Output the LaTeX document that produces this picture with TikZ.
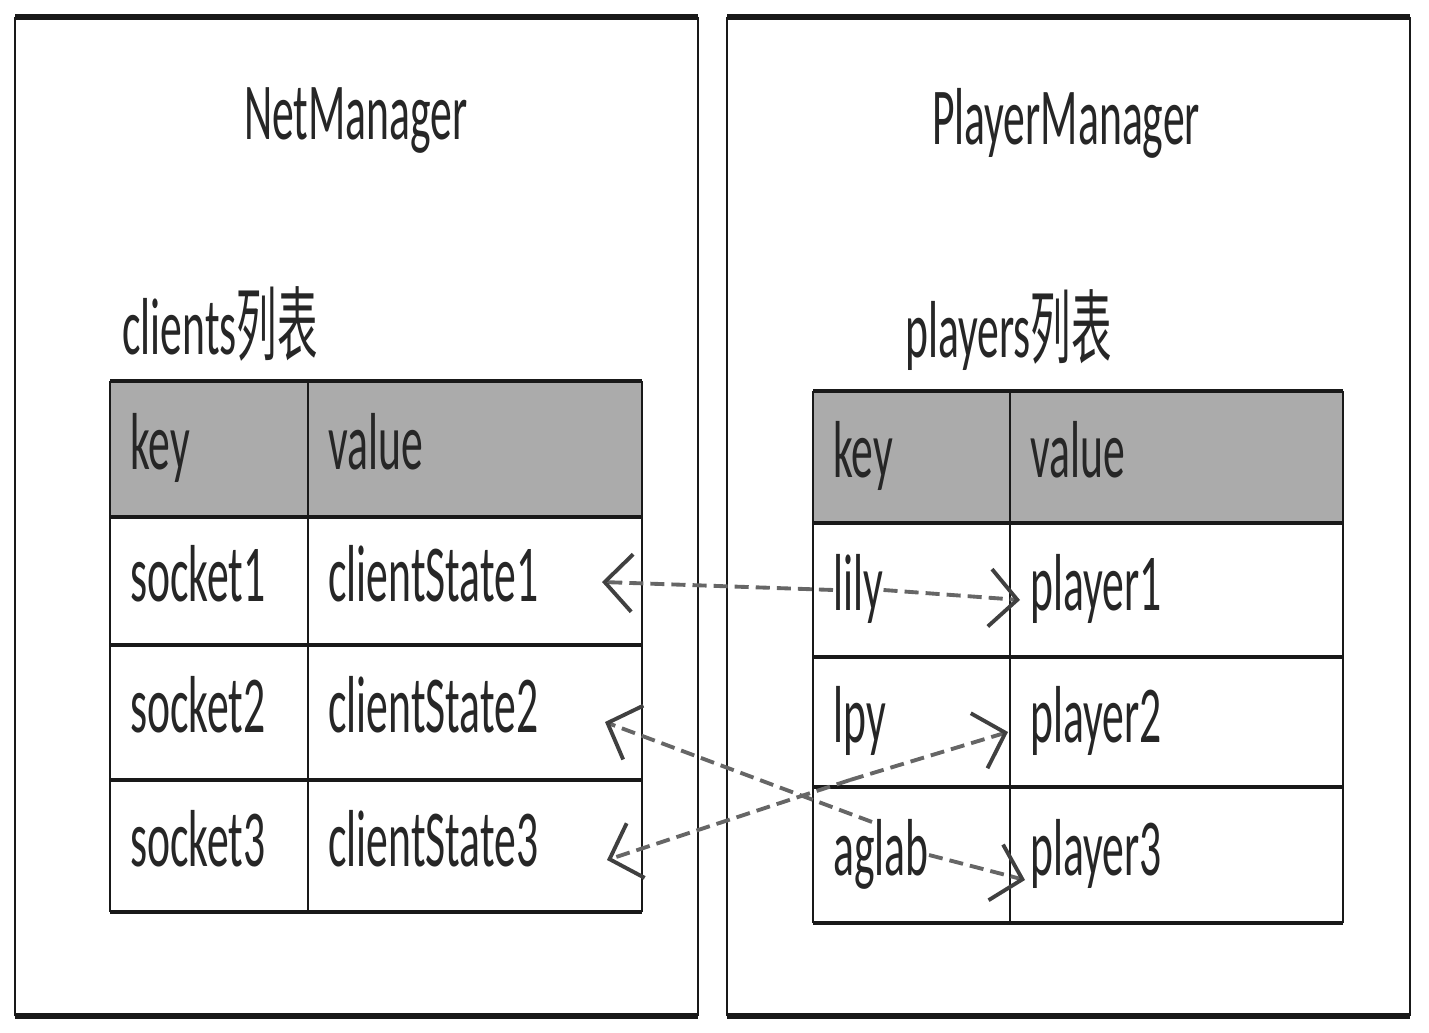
\documentclass[tikz,border=0pt]{standalone}
\usepackage{fontspec}
\setmainfont{Carlito}[FakeStretch=0.54]
\newfontfamily\cjk{Noto Sans CJK SC}[FakeStretch=0.5]
\usetikzlibrary{arrows.meta}

\tikzset{
  frame/.style={draw=black!90, line width=1.1pt},
  edge/.style={draw=black!90, line width=3pt},
  hline/.style={draw=black!90, line width=2.8pt},
  vline/.style={draw=black!90, line width=1.3pt},
  hdr/.style={fill=black!33},
  txt/.style={anchor=west, inner sep=0pt, text=black!85,
    font=\fontsize{46}{50}\selectfont, text height=34pt, text depth=11pt},
  link/.style={draw=black!60, line width=2.2pt, dash pattern=on 8pt off 4pt,
    -{Straight Barb[length=0.55cm,width=1.15cm,black!75]}},
}

\begin{document}
\begin{tikzpicture}
  \useasboundingbox (0,0) rectangle (28.58,20.64);
  % Outer frames
  \draw[frame] (0.3,0.32) -- (0.3,20.3) (13.96,0.32) -- (13.96,20.3);
  \draw[edge] (0.3,20.3) -- (13.96,20.3) (0.3,0.32) -- (13.96,0.32);
  \draw[frame] (14.54,0.32) -- (14.54,20.3) (28.2,0.32) -- (28.2,20.3);
  \draw[edge] (14.54,20.3) -- (28.2,20.3) (14.54,0.32) -- (28.2,0.32);
  % Titles
  \node[txt, anchor=center] (net) at (7.12,18.25) {NetManager};
  \node[txt, anchor=center] (player) at (21.32,18.15) {PlayerManager};
  \node[txt] (clients) at (2.44,13.95) {clients{\cjk 列表}};
  \node[txt] (players) at (18.1,13.9) {players{\cjk 列表}};
  % clients table
  \fill[hdr] (2.2,10.3) rectangle (12.84,13.02);
  \foreach \y in {2.4,5.04,7.74,10.3,13.02}
    \draw[hline] (2.2,\y) -- (12.84,\y);
  \foreach \x in {2.2,6.16,12.84}
    \draw[vline] (\x,2.4) -- (\x,13.02);
  \node[txt] (lkey) at (2.6,11.66) {key};
  \node[txt] (lval) at (6.56,11.66) {value};
  \node[txt] (s1) at (2.6,9.02) {socket1};
  \node[txt] (cs1) at (6.56,9.02) {clientState1};
  \node[txt] (s2) at (2.6,6.4) {socket2};
  \node[txt] (cs2) at (6.56,6.4) {clientState2};
  \node[txt] (s3) at (2.6,3.72) {socket3};
  \node[txt] (cs3) at (6.56,3.72) {clientState3};
  % players table
  \fill[hdr] (16.26,10.18) rectangle (26.86,12.82);
  \foreach \y in {2.18,4.9,7.5,10.18,12.82}
    \draw[hline] (16.26,\y) -- (26.86,\y);
  \foreach \x in {16.26,20.2,26.86}
    \draw[vline] (\x,2.18) -- (\x,12.82);
  \node[txt] (rkey) at (16.66,11.5) {key};
  \node[txt] (rval) at (20.6,11.5) {value};
  \node[txt] (lily) at (16.66,8.84) {lily};
  \node[txt] (p1) at (20.6,8.84) {player1};
  \node[txt] (lpy) at (16.66,6.2) {lpy};
  \node[txt] (p2) at (20.6,6.2) {player2};
  \node[txt] (aglab) at (16.66,3.54) {aglab};
  \node[txt] (p3) at (20.6,3.54) {player3};
  % Arrow ends
  \coordinate (cs1tip) at (12.04,9.0);
  \coordinate (cs2tip) at (12.1,6.2);
  \coordinate (cs3tip) at (12.14,3.44);
  \coordinate (p1tip) at (20.4,8.64);
  \coordinate (p2tip) at (20.16,6.0);
  \coordinate (p3tip) at (20.5,3.04);
  \coordinate (lpyo) at (17.0,5.04);
  \coordinate (aglabo) at (17.44,4.2);
  % Links
  \draw[link] (lily.west) -- (cs1tip);
  \draw[link] (lily.east) -- (p1tip);
  \draw[link] (lpyo) -- (cs3tip);
  \draw[link] (lpyo) -- (p2tip);
  \draw[link] (aglabo) -- (cs2tip);
  \draw[link] (aglab.east) -- (p3tip);
\end{tikzpicture}
\end{document}
